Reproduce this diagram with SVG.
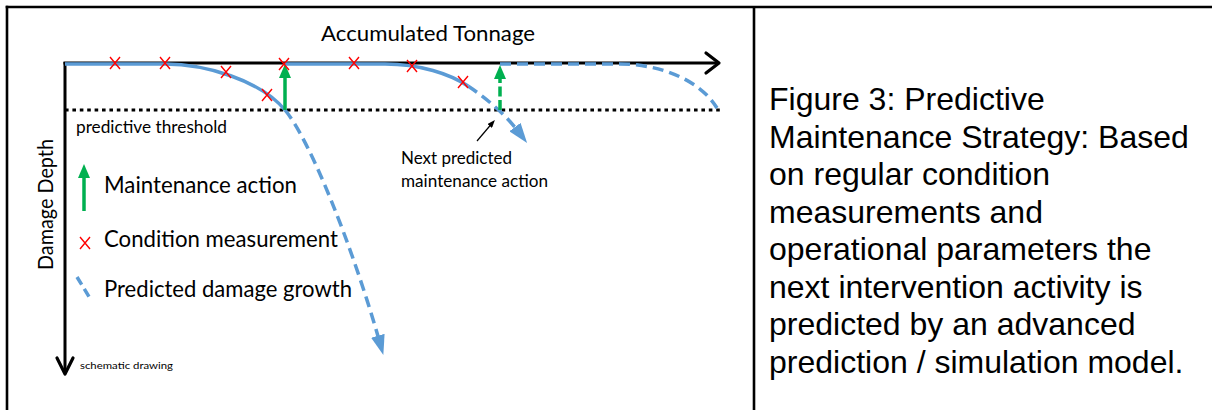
<svg xmlns="http://www.w3.org/2000/svg" width="1212" height="410" viewBox="0 0 1212 410">
  <style>
    .frame { stroke: #000; stroke-width: 2.6; fill: none; }
    .axis { stroke: #000; stroke-width: 3; fill: none; }
    .chev { stroke: #000; stroke-width: 3.2; fill: none; stroke-linecap: round; stroke-linejoin: round; }
    .thr { stroke: #000; stroke-width: 3.2; stroke-dasharray: 3.6 3.8; fill: none; }
    .dmg { stroke: #5B9BD5; stroke-width: 3.5; fill: none; }
    .dmg-dash { stroke: #5B9BD5; stroke-width: 3.5; fill: none; stroke-dasharray: 11 6; }
    .act { stroke: #00B050; stroke-width: 3.5; fill: none; }
    .act-dash { stroke: #00B050; stroke-width: 3.5; fill: none; stroke-dasharray: 10 3.5; }
    .meas { stroke: #FF0000; stroke-width: 1.4; fill: none; }
    .lbl { font-family: Lato, "Open Sans", sans-serif; fill: #000; }
    .cap { font-family: "Liberation Sans", Arial, sans-serif; font-size: 32px; fill: #000; }
  </style>
  <defs>
    <marker id="blueHead" markerUnits="userSpaceOnUse" viewBox="0 0 20 14" markerWidth="20" markerHeight="14" refX="6" refY="7" orient="auto">
      <path d="M0,0 L20,7 L0,14 z" fill="#5B9BD5"/>
    </marker>
    <marker id="greenHead" markerUnits="userSpaceOnUse" viewBox="0 0 14 12" markerWidth="14" markerHeight="12" refX="3" refY="6" orient="auto">
      <path d="M0,0 L14,6 L0,12 z" fill="#00B050"/>
    </marker>
    <marker id="blackHead" markerUnits="userSpaceOnUse" viewBox="0 0 8 6" markerWidth="8" markerHeight="6" refX="2" refY="3" orient="auto">
      <path d="M0,0 L8,3 L0,6 z" fill="#000"/>
    </marker>
    <path id="cross" d="M-5,-6 L5,6 M5,-6 L-5,6"/>
  </defs>

  <!-- panel frame -->
  <g id="frame">
    <line class="frame" x1="7" y1="5.7" x2="7" y2="410"/>
    <line class="frame" x1="5.7" y1="7" x2="1212" y2="7"/>
    <line class="frame" x1="754" y1="7" x2="754" y2="410"/>
  </g>

  <!-- axes -->
  <g id="axes">
    <line class="axis" x1="65" y1="62" x2="65" y2="373"/>
    <path class="chev" d="M57,358 L65,374 L73,358"/>
    <line class="axis" x1="63.5" y1="63" x2="718" y2="63"/>
    <path class="chev" d="M706,53 L719,63 L706,73"/>
    <text class="lbl" x="321" y="41" font-size="21.5" textLength="214" lengthAdjust="spacingAndGlyphs">Accumulated Tonnage</text>
    <text class="lbl" transform="translate(53,270) rotate(-90)" font-size="21" textLength="131" lengthAdjust="spacingAndGlyphs">Damage Depth</text>
    <text class="lbl" x="80" y="369" font-size="10" textLength="93" lengthAdjust="spacingAndGlyphs">schematic drawing</text>
  </g>

  <!-- predictive threshold -->
  <g id="threshold">
    <line class="thr" x1="65" y1="110" x2="722" y2="110"/>
    <text class="lbl" x="76" y="133" font-size="17" textLength="151" lengthAdjust="spacingAndGlyphs">predictive threshold</text>
  </g>

  <!-- damage growth curves and maintenance actions -->
  <g id="connectors">
    <path class="dmg" d="M65,64 H165 C205,64 260,80 285,110"/>
    <path class="dmg-dash" d="M285,110 C310,140 352,245 379.5,341.5" marker-end="url(#blueHead)"/>
    <path class="dmg" d="M285,64 H385 C420,64 450,74 468,86"/>
    <path class="dmg-dash" d="M468,86 C486,98 505,114 518.6,131.8" marker-end="url(#blueHead)"/>
    <path class="dmg-dash" d="M500,64 H620 C660,64 700,80 717,108"/>
    <line class="act" x1="285" y1="110" x2="285" y2="75" marker-end="url(#greenHead)"/>
    <line class="act-dash" x1="500" y1="110" x2="500" y2="76" marker-end="url(#greenHead)"/>
    <line x1="477" y1="141" x2="491" y2="124.5" stroke="#000" stroke-width="1.2" marker-end="url(#blackHead)"/>
  </g>

  <!-- condition measurements -->
  <g id="measurements" class="meas">
    <use href="#cross" x="115" y="63"/>
    <use href="#cross" x="165" y="63"/>
    <use href="#cross" x="226" y="72"/>
    <use href="#cross" x="267" y="95"/>
    <use href="#cross" x="284" y="64"/>
    <use href="#cross" x="354" y="63"/>
    <use href="#cross" x="412" y="66"/>
    <use href="#cross" x="463" y="82"/>
  </g>

  <g id="next-action-label">
    <text class="lbl" x="401" y="164" font-size="17" textLength="111" lengthAdjust="spacingAndGlyphs">Next predicted</text>
    <text class="lbl" x="401" y="187" font-size="17" textLength="147" lengthAdjust="spacingAndGlyphs">maintenance action</text>
  </g>

  <!-- legend -->
  <g id="legend">
    <line class="act" x1="84" y1="211" x2="84" y2="175" marker-end="url(#greenHead)"/>
    <text class="lbl" x="104" y="193" font-size="22.5" textLength="193" lengthAdjust="spacingAndGlyphs">Maintenance action</text>
    <use href="#cross" x="85" y="243" class="meas"/>
    <text class="lbl" x="104" y="247" font-size="22.5" textLength="234" lengthAdjust="spacingAndGlyphs">Condition measurement</text>
    <line x1="77" y1="277" x2="91" y2="300" stroke="#5B9BD5" stroke-width="3.5" stroke-dasharray="9 5"/>
    <text class="lbl" x="104" y="297" font-size="22.5" textLength="248" lengthAdjust="spacingAndGlyphs">Predicted damage growth</text>
  </g>

  <!-- caption -->
  <g id="caption">
    <text class="cap" x="769" y="110">Figure 3: Predictive</text>
    <text class="cap" x="769" y="147.5">Maintenance Strategy: Based</text>
    <text class="cap" x="769" y="185">on regular condition</text>
    <text class="cap" x="769" y="222.5">measurements and</text>
    <text class="cap" x="769" y="260">operational parameters the</text>
    <text class="cap" x="769" y="297.5">next intervention activity is</text>
    <text class="cap" x="769" y="335">predicted by an advanced</text>
    <text class="cap" x="769" y="372.5">prediction / simulation model.</text>
  </g>
</svg>
